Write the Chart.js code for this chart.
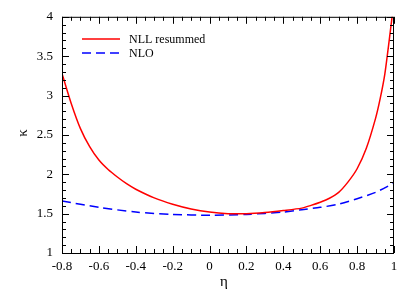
<!DOCTYPE html>
<html>
<head>
<meta charset="utf-8">
<script src="https://cdn.jsdelivr.net/npm/chart.js@4"></script>
<style>
  html, body { margin: 0; padding: 0; background: #fff; }
  #chart { display: block; }
</style>
</head>
<body>
<canvas id="chart" width="415" height="291"></canvas>
<script>
// values
const etaNll = [-0.8, -0.75, -0.7, -0.65, -0.6, -0.55, -0.5, -0.45, -0.4, -0.3, -0.2, -0.1, 0, 0.1, 0.2, 0.3, 0.4, 0.5, 0.55, 0.6, 0.65, 0.7, 0.75, 0.8, 0.85, 0.9, 0.925, 0.95, 0.975, 1.0];
const kappaNll = [3.28, 2.90, 2.58, 2.35, 2.18, 2.06, 1.965, 1.88, 1.81, 1.70, 1.62, 1.56, 1.52, 1.50, 1.50, 1.515, 1.54, 1.57, 1.605, 1.645, 1.695, 1.77, 1.90, 2.07, 2.33, 2.71, 2.96, 3.27, 3.72, 4.2];

const etaNlo = [-0.8, -0.6, -0.4, -0.2, 0, 0.2, 0.4, 0.5, 0.6, 0.7, 0.8, 0.9, 1.0];
const kappaNlo = [1.66, 1.58, 1.52, 1.49, 1.48, 1.49, 1.52, 1.55, 1.58, 1.62, 1.69, 1.77, 1.89];

const seriesNames = ['NLL resummed', 'NLO'];
const seriesColors = ['#ff0000', '#0000ff'];

const serif = '"Liberation Serif", "DejaVu Serif", serif';

// frame, inward ticks on all four sides, axis titles and legend
const framePlugin = {
    id: 'frame',
    afterDraw(chart) {
        const ctx = chart.ctx;
        const a = chart.chartArea;
        const xs = chart.scales.x;
        const ys = chart.scales.y;
        ctx.save();
        ctx.strokeStyle = '#000';
        ctx.lineWidth = 1;
        ctx.strokeRect(a.left + 0.5, a.top + 0.5, a.right - a.left - 1, a.bottom - a.top);

        ctx.beginPath();
        // x ticks every 0.05, major every 0.2
        for (let i = 0; i <= 36; i++) {
            const v = -0.8 + i * 0.05;
            const px = Math.round(xs.getPixelForValue(v)) + 0.5;
            const len = (i % 4 === 0) ? 7 : 4;
            ctx.moveTo(px, a.bottom);
            ctx.lineTo(px, a.bottom - len);
            ctx.moveTo(px, a.top);
            ctx.lineTo(px, a.top + len);
        }
        // y ticks every 0.1, major every 0.5
        for (let i = 0; i <= 30; i++) {
            const v = 1 + i * 0.1;
            const py = Math.round(ys.getPixelForValue(v)) + 0.5;
            const len = (i % 5 === 0) ? 7 : 4;
            ctx.moveTo(a.left, py);
            ctx.lineTo(a.left + len, py);
            ctx.moveTo(a.right, py);
            ctx.lineTo(a.right - len, py);
        }
        ctx.stroke();

        // axis titles
        ctx.fillStyle = '#000';
        ctx.font = '15px ' + serif;
        ctx.textAlign = 'center';
        ctx.textBaseline = 'middle';
        ctx.fillText('η', 224, 282);
        ctx.save();
        ctx.translate(23, 133);
        ctx.rotate(-Math.PI / 2);
        ctx.fillText('κ', 0, 0);
        ctx.restore();

        // legend
        ctx.font = '12px ' + serif;
        ctx.textAlign = 'left';
        ctx.lineWidth = 1.5;
        const rows = [39, 53];
        rows.forEach((y, i) => {
            ctx.strokeStyle = seriesColors[i];
            ctx.setLineDash(i === 1 ? [9, 5] : []);
            ctx.beginPath();
            ctx.moveTo(82, y);
            ctx.lineTo(120, y);
            ctx.stroke();
            ctx.fillText(seriesNames[i], 129, y + 1);
        });
        ctx.restore();
    }
};

new Chart(document.getElementById('chart'), {
    type: 'line',
    data: {
        datasets: [{
            label: seriesNames[0],
            data: etaNll.map((x, i) => ({ x: x, y: kappaNll[i] })),
            borderColor: seriesColors[0],
            borderWidth: 1.5,
            pointRadius: 0,
            tension: 0.25,
            fill: false
        }, {
            label: seriesNames[1],
            data: etaNlo.map((x, i) => ({ x: x, y: kappaNlo[i] })),
            borderColor: seriesColors[1],
            borderWidth: 1.5,
            borderDash: [9, 5],
            pointRadius: 0,
            tension: 0.25,
            fill: false
        }]
    },
    options: {
        responsive: false,
        animation: false,
        devicePixelRatio: 1,
        layout: { padding: { left: 0, top: 16, right: 21, bottom: 0 } },
        plugins: { legend: { display: false }, tooltip: { enabled: false } },
        scales: {
            x: {
                type: 'linear',
                min: -0.8,
                max: 1,
                afterFit(s) { s.height = 38; },
                grid: { display: false, drawTicks: false },
                border: { display: false },
                ticks: {
                    stepSize: 0.2,
                    padding: 6,
                    maxRotation: 0,
                    color: '#000',
                    font: { family: serif, size: 13 },
                    callback: v => String(Math.round(v * 10) / 10)
                }
            },
            y: {
                min: 1,
                max: 4,
                afterFit(s) { s.width = 62; },
                grid: { display: false, drawTicks: false },
                border: { display: false },
                ticks: {
                    stepSize: 0.5,
                    padding: 9,
                    color: '#000',
                    font: { family: serif, size: 13 },
                    callback: v => String(Math.round(v * 10) / 10)
                }
            }
        }
    },
    plugins: [framePlugin]
});
</script>
</body>
</html>
